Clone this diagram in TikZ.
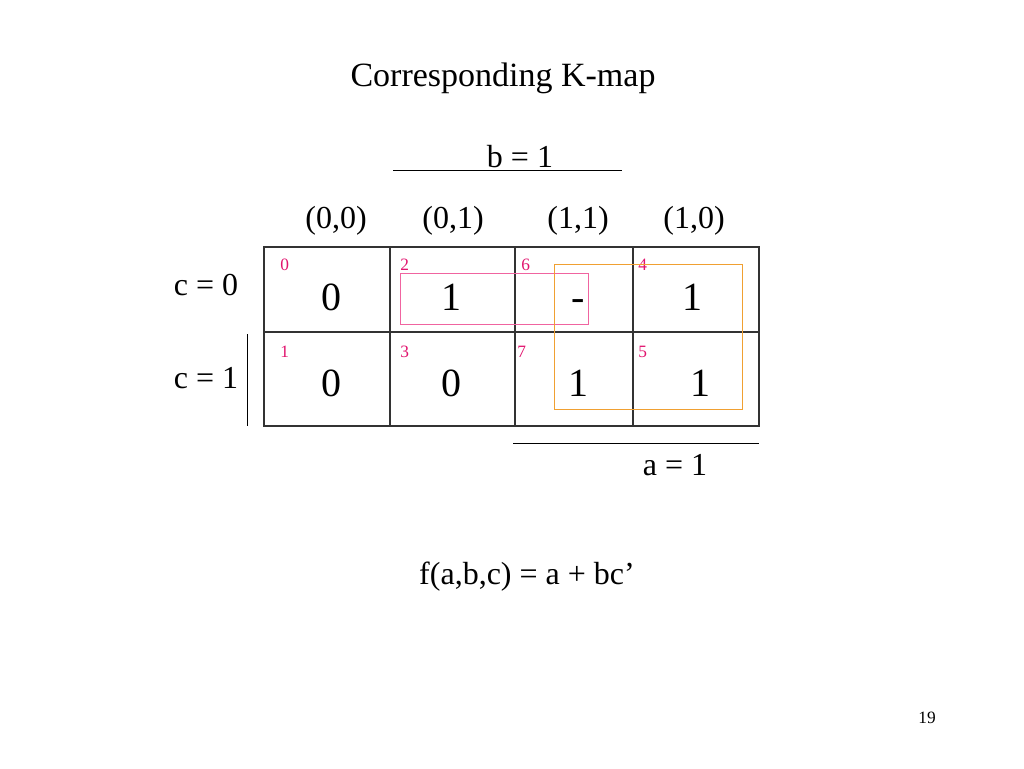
\documentclass[tikz,border=0pt]{standalone}
\usepackage{fontspec}
\setmainfont{Liberation Serif}
\definecolor{idxred}{RGB}{225,20,110}
\definecolor{grppink}{RGB}{240,100,160}
\definecolor{grporange}{RGB}{240,160,50}
\begin{document}
\begin{tikzpicture}[x=0.75pt, y=-0.75pt,
  every node/.style={inner sep=0pt},
  val/.style={font=\fontsize{30}{32}\selectfont, anchor=base},
  idx/.style={font=\fontsize{13}{14}\selectfont, text=idxred, anchor=west},
  lbl/.style={font=\fontsize{24}{26}\selectfont}]
\useasboundingbox (0,0) rectangle (1024,768);
\node[font=\fontsize{25.5}{27}\selectfont] (title) at (503,78) {Corresponding K-map};
% grid
\draw[thick, black!80] (264,247) rectangle (759,426);
\draw[thick, black!80] (264,332) -- (759,332);
\draw[thick, black!80] (390,247) -- (390,426);
\draw[thick, black!80] (515,247) -- (515,426);
\draw[thick, black!80] (633,247) -- (633,426);
% column labels
\node[lbl] (c00) at (336,221) {(0,0)};
\node[lbl] (c01) at (453,221) {(0,1)};
\node[lbl] (c11) at (578,221) {(1,1)};
\node[lbl] (c10) at (694,221) {(1,0)};
% variable labels
\node[lbl] (bone) at (520,157) {b = 1};
\draw (393,170) -- (622,170);
\node[lbl] (aone) at (675,465) {a = 1};
\draw (513,443) -- (759,443);
\node[lbl] (czero) at (206,285) {c = 0};
\node[lbl] (cone) at (206,378) {c = 1};
\draw (247,334) -- (247,426);
% cell indices
\node[idx] (i0) at (280,265) {0};
\node[idx] (i2) at (400,265) {2};
\node[idx] (i6) at (521,265) {6};
\node[idx] (i4) at (638,265) {4};
\node[idx] (i1) at (280,352) {1};
\node[idx] (i3) at (400,352) {3};
\node[idx] (i7) at (517,352) {7};
\node[idx] (i5) at (638,352) {5};
% cell values
\node[val] (m0) at (331,310) {0};
\node[val] (m2) at (451,310) {1};
\node[val] (m6) at (578,310) {-};
\node[val] (m4) at (692,310) {1};
\node[val] (m1) at (331,396) {0};
\node[val] (m3) at (451,396) {0};
\node[val] (m7) at (578,396) {1};
\node[val] (m5) at (700,396) {1};
% groups
\draw[grppink, semithick] (400,273) rectangle (588,324);
\draw[grporange, semithick] (554,264) rectangle (742,409);
\node[lbl] (func) at (527,577) {f(a,b,c) = a + bc’};
\node[font=\fontsize{13}{14}\selectfont] (page) at (927,718) {19};
\end{tikzpicture}
\end{document}
